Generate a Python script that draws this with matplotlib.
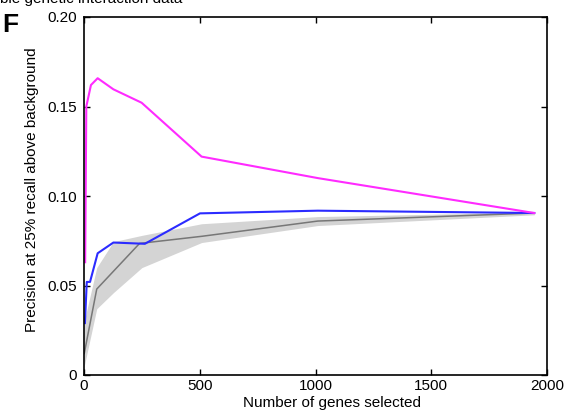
import matplotlib
matplotlib.use("Agg")
import matplotlib.pyplot as plt
from matplotlib.ticker import FuncFormatter

plt.rcParams['font.family'] = ['Liberation Sans', 'DejaVu Sans']

# Precision at 25% recall above background vs. number of selected genes
magenta_x = [5, 10, 30, 59, 127, 249, 508, 1010, 1945]
magenta_y = [0.063, 0.150, 0.162, 0.1658, 0.1596, 0.1521, 0.1220, 0.1100, 0.0905]

blue_x = [4, 12, 26, 59, 127, 263, 501, 1010, 1945]
blue_y = [0.029, 0.052, 0.052, 0.068, 0.0740, 0.0733, 0.0903, 0.0918, 0.0905]

# Random-selection baseline: mean and spread
gray_x = [1, 55, 240, 510, 1010, 1945]
gray_y = [0.012, 0.048, 0.0735, 0.0775, 0.0860, 0.0905]

band_x = [1, 55, 127, 250, 508, 1010, 1945]
band_hi = [0.030, 0.060, 0.0745, 0.0780, 0.0845, 0.0885, 0.0910]
band_lo = [0.005, 0.037, 0.046, 0.060, 0.0740, 0.0835, 0.0895]

x_ticks = [0, 500, 1000, 1500, 2000]
y_ticks = [0, 0.05, 0.10, 0.15, 0.20]

W, H = 572, 417
fig = plt.figure(figsize=(W / 100, H / 100), dpi=100)
ax = fig.add_axes([84 / W, 1 - 375 / H, 463 / W, 358 / H])

ax.fill_between(band_x, band_lo, band_hi, color='#d4d4d4', linewidth=0)
ax.plot(gray_x, gray_y, color='#777777', linewidth=1.1)
ax.plot(blue_x, blue_y, color='#2b2bff', linewidth=1.5)
ax.plot(magenta_x, magenta_y, color='#ff2bff', linewidth=1.5)

ax.set_xlim(0, 2000)
ax.set_ylim(0, 0.20)
ax.set_xticks(x_ticks)
ax.set_yticks(y_ticks)
ax.xaxis.set_major_formatter(FuncFormatter(lambda v, p: f"{v:.0f}"))
ax.yaxis.set_major_formatter(FuncFormatter(lambda v, p: "0" if v == 0 else f"{v:.2f}"))
ax.tick_params(direction='in', length=4, width=1, top=True, right=True, labelsize=11)
ax.tick_params(axis='x', pad=3)
ax.tick_params(axis='y', pad=5)
for s in ax.spines.values():
    s.set_linewidth(1.2)

ax.set_xlabel("Number of genes selected", fontsize=11, va='center', ha='center')
ax.xaxis.set_label_coords((332 - 84) / 463, (375 - 403) / 358)
ax.set_ylabel("Precision at 25% recall above background", fontsize=11,
              rotation=90, va='center', ha='center', rotation_mode='anchor')
ax.yaxis.set_label_coords((32 - 84) / 463, (375 - 190) / 358)

fig.text(10 / W, 1 - 25 / H, "F", fontsize=19, fontweight='bold', ha='center', va='center')
fig.text(0.0, 1 - 6 / H, "ble genetic interaction data", fontsize=11, va='bottom')

fig.savefig("out.png", dpi=100)
